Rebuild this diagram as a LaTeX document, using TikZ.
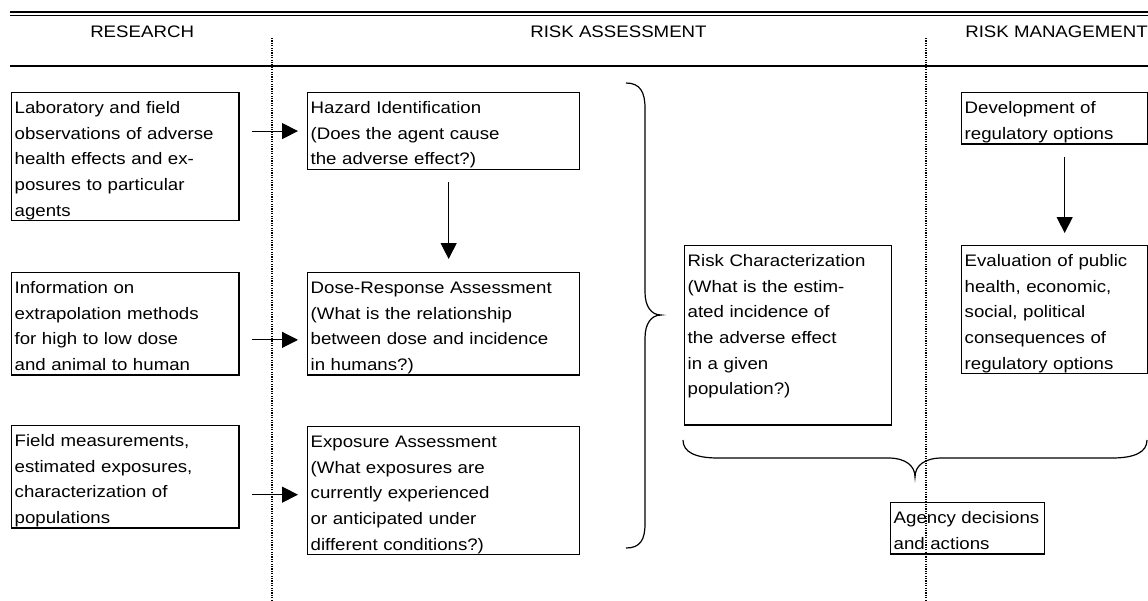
\documentclass[tikz,border=0pt]{standalone}
\usepackage{fontspec}
\setmainfont{Liberation Sans}[FakeStretch=1.12]
\usepackage{tikz}
\usetikzlibrary{arrows.meta}
\newcommand{\bxstrut}{\rule[-3.45pt]{0pt}{19.2pt}}

\begin{document}
\begin{tikzpicture}[x=0.75pt, y=-0.75pt, >={Triangle[length=12pt,width=12pt]},
      font=\fontsize{12.5pt}{19.2pt}\selectfont,
      box/.style={draw, line width=1pt, anchor=north west, align=left,
                  inner xsep=2.25pt, inner ysep=0pt,
                  execute at begin node=\bxstrut, execute at end node=\bxstrut},
      head/.style={anchor=west, inner sep=0pt},
      rulebar/.style={line width=1pt},
      divider/.style={line width=0.9pt, dash pattern=on 0.9pt off 0.9pt},
      bracket/.style={line width=0.9pt},
      flow/.style={->, line width=0.8pt}]
    \useasboundingbox (0,0) rectangle (1148,600);

    % header bands
    \draw[rulebar] (10,12) -- (1148,12);
    \draw[rulebar] (10,15.5) -- (1148,15.5);
    \draw[rulebar] (10,66) -- (1148,66);
    \node[head] (research) at (90,32) {RESEARCH};
    \node[head] (assess)   at (530,32) {RISK ASSESSMENT};
    \node[head] (manage)   at (965,32) {RISK MANAGEMENT};
    \draw[divider] (272,38) -- (272,600);
    \draw[divider] (926,38) -- (926,600);

    % research column
    \node[box, text width=166pt] (lab) at (11,92) {Laboratory and field\\observations of adverse\\health effects and ex-\\posures to particular\\agents};
    \node[box, text width=166pt] (info) at (11,272) {Information on\\extrapolation methods\\for high to low dose\\and animal to human};
    \node[box, text width=166pt] (field) at (11,425) {Field measurements,\\estimated exposures,\\characterization of\\populations};

    % assessment column
    \node[box, text width=199.5pt] (hazard) at (307,92) {Hazard Identification\\(Does the agent cause\\the adverse effect?)};
    \node[box, text width=199.5pt] (dose) at (307,272) {Dose-Response Assessment\\(What is the relationship\\between dose and incidence\\in humans?)};
    \node[box, text width=199.5pt] (expo) at (307,426) {Exposure Assessment\\(What exposures are\\currently experienced\\or anticipated under\\different conditions?)};
    \node[box, text width=150.75pt] (riskchar) at (684,245) {Risk Characterization\\(What is the estim-\\ated incidence of\\the adverse effect\\in a given\\population?)\\\mbox{}};

    % management column
    \node[box, text width=135pt] (devel) at (961,92) {Development of\\regulatory options};
    \node[box, text width=135pt] (evalu) at (961,245) {Evaluation of public\\health, economic,\\social, political\\consequences of\\regulatory options};
    \node[box, text width=111pt] (agency) at (890,502) {Agency~decisions\\and actions};

    \draw[flow, shorten <=9pt, shorten >=6.75pt] (lab.east |- hazard.west) -- (hazard.west);
    \draw[flow, shorten <=9pt, shorten >=6.75pt] ([yshift=-12pt]info.east |- dose.west) -- ([yshift=-12pt]dose.west);
    \draw[flow, shorten <=9pt, shorten >=6.75pt] ([yshift=-3pt]field.east |- expo.west) -- ([yshift=-3pt]expo.west);
    \draw[flow, shorten <=9pt, shorten >=9.75pt] ([xshift=3.75pt]hazard.south) -- ([xshift=3.75pt]dose.north);
    \draw[flow, shorten <=9pt, shorten >=9pt] ([xshift=7.5pt]devel.south) -- ([xshift=7.5pt]evalu.north);

    % braces
    \draw[bracket] (626,83) .. controls (640,83) and (645,92) .. (645,108) -- (645,292)
      .. controls (645,306) and (651,315) .. (661,315)
      .. controls (651,315) and (645,324) .. (645,338) -- (645,524)
      .. controls (645,540) and (640,548) .. (626,548);
    \draw[bracket] (683,440) .. controls (683,452) and (695,458) .. (718,458) -- (888,458)
      .. controls (906,458) and (915,466) .. (915,477)
      .. controls (915,466) and (924,458) .. (942,458) -- (1112,458)
      .. controls (1135,458) and (1147,452) .. (1147,440);
  \end{tikzpicture}
\end{document}
